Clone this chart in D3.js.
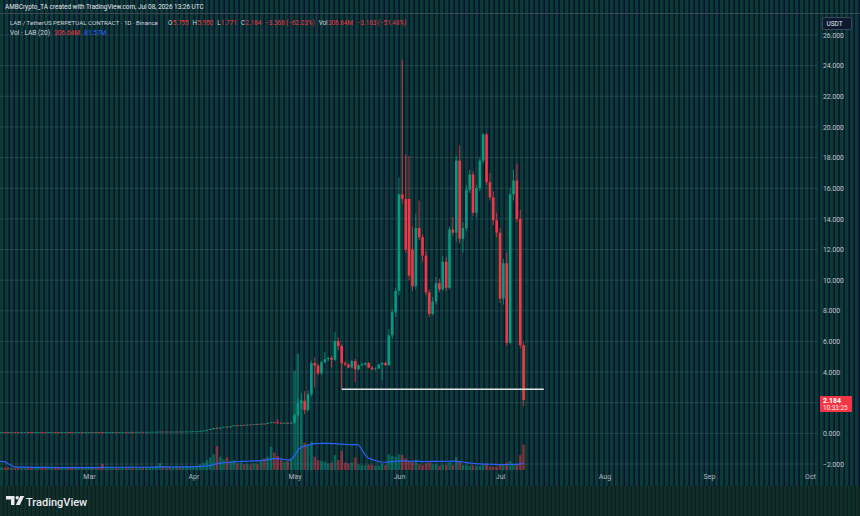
<!DOCTYPE html>
<html>
<head>
<meta charset="utf-8">
<script src="https://cdn.jsdelivr.net/npm/d3@7"></script>
<style>
  body { margin: 0; background: #0b2f2c; }
  svg { display: block; }
  text { font-family: Roboto, 'Liberation Sans', sans-serif; }
</style>
</head>
<body>
<svg id="chart" width="860" height="516"></svg>
<script>
// Daily candles [open, high, low, close, volume in M], one list per month
const firstDay = '2026-01-14'
const jan = [
  [0.110, 0.125, 0.100, 0.118, 60], [0.118, 0.130, 0.110, 0.114, 70], [0.114, 0.160, 0.105, 0.140, 520],
  [0.140, 0.150, 0.112, 0.120, 460], [0.120, 0.128, 0.098, 0.104, 380], [0.104, 0.110, 0.096, 0.100, 55],
  [0.100, 0.106, 0.094, 0.097, 48], [0.097, 0.102, 0.090, 0.094, 42], [0.094, 0.100, 0.090, 0.096, 40],
  [0.096, 0.099, 0.088, 0.090, 45], [0.090, 0.096, 0.086, 0.093, 38], [0.093, 0.097, 0.089, 0.091, 36],
  [0.091, 0.094, 0.085, 0.087, 40], [0.087, 0.092, 0.084, 0.090, 35], [0.090, 0.095, 0.086, 0.088, 34],
  [0.088, 0.091, 0.082, 0.084, 38], [0.084, 0.089, 0.081, 0.086, 33], [0.086, 0.090, 0.083, 0.085, 32],
]
const feb = [
  [0.085, 0.089, 0.080, 0.083, 36], [0.083, 0.087, 0.078, 0.080, 34], [0.080, 0.085, 0.077, 0.082, 31],
  [0.082, 0.084, 0.076, 0.079, 30], [0.079, 0.083, 0.074, 0.077, 33], [0.077, 0.083, 0.075, 0.080, 29],
  [0.080, 0.082, 0.075, 0.078, 27], [0.078, 0.080, 0.073, 0.076, 30], [0.076, 0.082, 0.074, 0.079, 28],
  [0.079, 0.084, 0.077, 0.081, 32], [0.081, 0.083, 0.076, 0.078, 29], [0.078, 0.079, 0.072, 0.075, 31],
  [0.075, 0.080, 0.073, 0.077, 27], [0.077, 0.082, 0.075, 0.079, 26], [0.079, 0.081, 0.074, 0.076, 28],
  [0.076, 0.078, 0.071, 0.074, 30], [0.074, 0.079, 0.072, 0.077, 27], [0.077, 0.083, 0.076, 0.080, 33],
  [0.080, 0.082, 0.075, 0.078, 29], [0.078, 0.080, 0.073, 0.076, 27], [0.076, 0.081, 0.074, 0.079, 26],
  [0.079, 0.085, 0.077, 0.082, 34], [0.082, 0.084, 0.078, 0.080, 30], [0.080, 0.082, 0.075, 0.078, 28],
  [0.078, 0.084, 0.077, 0.081, 31], [0.081, 0.086, 0.079, 0.083, 33], [0.083, 0.085, 0.078, 0.080, 29],
  [0.080, 0.085, 0.079, 0.082, 30],
]
const mar = [
  [0.082, 0.086, 0.079, 0.084, 31], [0.084, 0.087, 0.080, 0.082, 29], [0.082, 0.088, 0.081, 0.086, 34],
  [0.086, 0.090, 0.083, 0.084, 40], [0.084, 0.089, 0.078, 0.080, 75], [0.080, 0.085, 0.078, 0.083, 38],
  [0.083, 0.088, 0.082, 0.086, 33], [0.086, 0.090, 0.084, 0.088, 30], [0.088, 0.092, 0.085, 0.087, 28],
  [0.087, 0.091, 0.084, 0.089, 27], [0.089, 0.094, 0.087, 0.092, 31], [0.092, 0.095, 0.088, 0.090, 29],
  [0.090, 0.094, 0.087, 0.093, 30], [0.093, 0.097, 0.090, 0.091, 28], [0.091, 0.095, 0.088, 0.094, 27],
  [0.094, 0.099, 0.092, 0.097, 33], [0.097, 0.100, 0.093, 0.095, 30], [0.095, 0.099, 0.092, 0.098, 29],
  [0.098, 0.103, 0.096, 0.101, 35], [0.101, 0.106, 0.099, 0.104, 40], [0.104, 0.110, 0.102, 0.108, 48],
  [0.108, 0.118, 0.106, 0.115, 85], [0.115, 0.119, 0.108, 0.111, 50], [0.111, 0.116, 0.107, 0.113, 42],
  [0.113, 0.117, 0.109, 0.110, 38], [0.110, 0.115, 0.107, 0.114, 36], [0.114, 0.119, 0.111, 0.117, 40],
  [0.117, 0.121, 0.112, 0.115, 37], [0.115, 0.120, 0.113, 0.118, 35], [0.118, 0.124, 0.116, 0.122, 42],
  [0.122, 0.127, 0.118, 0.125, 44],
]
const apr = [
  [0.125, 0.135, 0.120, 0.132, 48], [0.132, 0.140, 0.127, 0.137, 52], [0.137, 0.160, 0.133, 0.155, 70],
  [0.155, 0.190, 0.150, 0.182, 90], [0.182, 0.230, 0.176, 0.224, 120], [0.224, 0.280, 0.215, 0.270, 150],
  [0.270, 0.360, 0.262, 0.345, 190], [0.345, 0.400, 0.300, 0.318, 290], [0.318, 0.390, 0.312, 0.380, 160],
  [0.380, 0.440, 0.370, 0.428, 130], [0.428, 0.450, 0.380, 0.395, 150], [0.395, 0.470, 0.390, 0.460, 110],
  [0.460, 0.530, 0.450, 0.515, 120], [0.515, 0.540, 0.490, 0.505, 80], [0.505, 0.560, 0.500, 0.548, 85],
  [0.548, 0.570, 0.520, 0.530, 70], [0.530, 0.580, 0.525, 0.572, 75], [0.572, 0.600, 0.555, 0.565, 65],
  [0.565, 0.610, 0.560, 0.598, 80], [0.598, 0.620, 0.575, 0.585, 70], [0.585, 0.640, 0.580, 0.628, 120],
  [0.628, 0.660, 0.605, 0.615, 140], [0.615, 0.690, 0.610, 0.675, 160], [0.675, 0.730, 0.668, 0.720, 280],
  [0.720, 0.760, 0.690, 0.705, 210], [0.705, 0.940, 0.660, 0.680, 170], [0.680, 0.720, 0.650, 0.668, 120],
  [0.668, 0.700, 0.640, 0.690, 100], [0.690, 0.710, 0.620, 0.640, 110], [0.640, 0.720, 0.630, 0.700, 140],
]
const may = [
  [0.70, 1.30, 0.62, 1.18, 1200], [1.18, 2.30, 1.05, 1.96, 1400], [1.96, 2.65, 1.60, 2.12, 850],
  [2.12, 2.75, 1.25, 1.52, 330], [1.52, 2.80, 1.42, 2.55, 300], [2.55, 4.75, 2.40, 4.58, 340],
  [4.58, 4.95, 3.00, 4.42, 160], [4.42, 4.55, 3.80, 3.92, 120], [3.92, 4.72, 3.82, 4.64, 110],
  [4.64, 5.30, 4.58, 4.84, 100], [4.84, 5.00, 4.70, 4.92, 80], [4.92, 5.05, 4.30, 4.80, 90],
  [4.80, 6.60, 4.70, 6.02, 180], [6.02, 6.25, 5.40, 5.70, 120], [5.70, 5.82, 2.88, 4.58, 230],
  [4.58, 4.70, 4.40, 4.49, 90], [4.49, 4.60, 4.25, 4.30, 80], [4.30, 4.80, 4.25, 4.72, 90],
  [4.72, 4.85, 3.35, 4.18, 150], [4.18, 4.50, 4.10, 4.44, 70], [4.44, 4.62, 4.36, 4.50, 60],
  [4.50, 4.64, 4.42, 4.59, 55], [4.59, 4.66, 4.25, 4.29, 65], [4.29, 4.40, 4.12, 4.18, 60],
  [4.18, 4.30, 4.10, 4.23, 50], [4.23, 4.55, 4.20, 4.49, 55], [4.49, 4.65, 3.47, 4.59, 80],
  [4.59, 4.70, 4.40, 4.45, 60], [4.45, 6.80, 4.40, 6.40, 190], [6.40, 8.10, 6.20, 7.90, 170],
  [7.90, 9.50, 7.60, 9.30, 160],
]
const jun = [
  [9.30, 16.70, 9.00, 15.60, 190], [15.60, 24.40, 15.00, 15.30, 180], [15.30, 18.20, 11.80, 12.00, 140],
  [15.30, 18.10, 10.00, 10.30, 110], [12.00, 13.50, 9.30, 9.60, 100], [9.60, 14.30, 9.40, 13.40, 120],
  [13.40, 15.20, 12.60, 12.80, 70], [12.80, 13.00, 11.20, 11.60, 60], [11.60, 11.90, 9.00, 9.20, 80],
  [9.20, 9.40, 7.60, 7.80, 90], [7.80, 8.90, 7.70, 8.60, 65], [8.60, 10.20, 8.40, 9.80, 70],
  [9.80, 10.10, 9.20, 9.40, 50], [9.40, 11.60, 9.30, 11.20, 65], [11.20, 11.50, 9.30, 9.50, 60],
  [9.50, 13.50, 9.40, 13.30, 95], [13.30, 14.10, 12.90, 13.10, 60], [13.10, 18.10, 12.50, 17.80, 150],
  [17.80, 18.80, 12.40, 12.70, 110], [12.70, 13.80, 11.80, 13.40, 60], [13.40, 16.20, 13.20, 15.90, 60],
  [15.90, 17.20, 15.70, 16.90, 50], [16.90, 17.10, 14.20, 14.40, 55], [14.40, 16.20, 14.10, 16.00, 45],
  [16.00, 18.00, 15.80, 17.80, 50], [17.80, 19.60, 17.60, 19.50, 60], [19.50, 19.60, 16.20, 16.40, 70],
  [16.40, 17.00, 15.20, 15.40, 45], [15.40, 15.80, 13.60, 13.90, 40], [13.90, 14.40, 12.80, 13.10, 35],
]
const jul = [
  [13.10, 13.40, 8.50, 8.80, 60], [8.80, 11.40, 8.40, 11.10, 70], [11.10, 11.80, 5.70, 5.90, 90],
  [5.90, 16.00, 5.80, 15.60, 110], [15.60, 17.20, 15.20, 16.50, 75], [16.50, 17.60, 13.80, 14.00, 60],
  [14.00, 14.60, 5.55, 5.755, 180], [5.755, 5.950, 1.771, 2.184, 306.64],
]

// Axis ticks
const priceTicks = [-2, 0, 2, 4, 6, 8, 10, 12, 14, 16, 18, 20, 22, 24, 26]
const monthTicks = ['2026-03-01', '2026-04-01', '2026-05-01', '2026-06-01', '2026-07-01', '2026-08-01', '2026-09-01', '2026-10-01']

// Drawn support line (from, to, price)
const supportLine = ['2026-05-15', '2026-07-14', 2.88]
const lastPrice = 2.184
const maLength = 20

const upColor = '#089981'
const downColor = '#f23645'
const textColor = '#d1d4dc'

const parse = d3.utcParse('%Y-%m-%d')
const t0 = parse(firstDay)
const data = [].concat(jan, feb, mar, apr, may, jun, jul).map((r, i) => ({
  date: d3.utcDay.offset(t0, i), o: r[0], h: r[1], l: r[2], c: r[3], v: r[4],
}))
data.forEach((d, i) => {
  d.ma = i >= maLength - 1 ? d3.mean(data.slice(i - maLength + 1, i + 1), (e) => e.v) : null
})

const svg = d3.select('#chart')
const plotRight = 817
const plotTop = 14
const plotBottom = 470

const x = d3.scaleUtc().domain([parse('2026-03-01'), parse('2026-10-01')]).range([89, 810])
const y = d3.scaleLinear().domain([-2, 26]).range([464, 35])
const yv = d3.scaleLinear().domain([0, 1400]).range([plotBottom, 354])
const bw = 2.6

// Фон с вертикальными полосами
const defs = svg.append('defs')
const stripes = defs.append('pattern').attr('id', 'stripes')
  .attr('width', 5).attr('height', 10).attr('patternUnits', 'userSpaceOnUse')
stripes.append('rect').attr('width', 5).attr('height', 10).attr('fill', '#0b3c33')
stripes.append('rect').attr('x', 3.4).attr('width', 1.6).attr('height', 10).attr('fill', '#0b1036')
const foot = defs.append('pattern').attr('id', 'foot')
  .attr('width', 4).attr('height', 10).attr('patternUnits', 'userSpaceOnUse')
foot.append('rect').attr('width', 4).attr('height', 10).attr('fill', '#12302b')
foot.append('rect').attr('x', 2.5).attr('width', 1.5).attr('height', 10).attr('fill', '#0d211e')
defs.append('clipPath').attr('id', 'plot')
  .append('rect').attr('x', 0).attr('y', plotTop).attr('width', plotRight).attr('height', plotBottom - plotTop)

svg.append('rect').attr('width', 860).attr('height', 486).attr('fill', 'url(#stripes)')
svg.append('rect').attr('y', 486).attr('width', 860).attr('height', 30).attr('fill', 'url(#foot)')

// Separators
svg.append('line').attr('x1', 0).attr('x2', 860).attr('y1', 13.5).attr('y2', 13.5)
  .attr('stroke', '#3b4a52').attr('stroke-width', 1)

const g = svg.append('g').attr('clip-path', 'url(#plot)')

// Горизонтальная сетка
g.selectAll('.grid')
  .data(priceTicks)
  .enter()
  .append('line')
  .attr('x1', 0).attr('x2', plotRight)
  .attr('y1', (d) => y(d)).attr('y2', (d) => y(d))
  .attr('stroke', 'rgba(170,180,185,0.16)')
  .attr('stroke-width', 1)

// Объём
g.selectAll('.vol')
  .data(data)
  .enter()
  .append('rect')
  .attr('x', (d) => x(d.date) - bw / 2)
  .attr('width', bw)
  .attr('y', (d) => yv(d.v))
  .attr('height', (d) => plotBottom - yv(d.v))
  .attr('fill', (d) => (d.c >= d.o ? upColor : downColor))
  .attr('opacity', 0.5)

g.append('path')
  .datum(data.filter((d) => d.ma !== null))
  .attr('fill', 'none')
  .attr('stroke', '#2962ff')
  .attr('stroke-width', 1.2)
  .attr('d', d3.line().x((d) => x(d.date)).y((d) => yv(d.ma)))

// Свечи
const candle = g.selectAll('.candle')
  .data(data)
  .enter()
  .append('g')
  .attr('fill', (d) => (d.c >= d.o ? upColor : downColor))
  .attr('stroke', (d) => (d.c >= d.o ? upColor : downColor))

candle.append('line')
  .attr('x1', (d) => x(d.date)).attr('x2', (d) => x(d.date))
  .attr('y1', (d) => y(d.h)).attr('y2', (d) => y(d.l))
  .attr('stroke-width', 0.8)

candle.append('rect')
  .attr('stroke', 'none')
  .attr('x', (d) => x(d.date) - bw / 2)
  .attr('width', bw)
  .attr('y', (d) => y(Math.max(d.o, d.c)))
  .attr('height', (d) => Math.max(0.8, Math.abs(y(d.o) - y(d.c))))

// Линия поддержки
g.append('line')
  .attr('x1', x(parse(supportLine[0]))).attr('x2', x(parse(supportLine[1])))
  .attr('y1', y(supportLine[2])).attr('y2', y(supportLine[2]))
  .attr('stroke', '#e4e4e4')
  .attr('stroke-width', 1.4)

// Ось времени
svg.append('g')
  .attr('transform', `translate(0,${plotBottom})`)
  .call(d3.axisBottom(x).tickValues(monthTicks.map(parse)).tickFormat(d3.utcFormat('%b')).tickSize(0).tickPadding(4.5))
  .call((a) => a.select('.domain').remove())
  .selectAll('text')
  .attr('fill', '#b2b5be')
  .attr('font-size', '7px')
  .attr('font-family', 'Roboto, sans-serif')

// Ось цены (метка, закрытая плашкой последней цены, не выводится)
const tagTop = y(lastPrice) - 4
const tagBottom = tagTop + 16
svg.append('g')
  .attr('transform', 'translate(823,0)')
  .call(d3.axisRight(y)
    .tickValues(priceTicks.filter((v) => y(v) + 4 < tagTop || y(v) - 4 > tagBottom))
    .tickFormat(d3.format('.3f')).tickSize(0).tickPadding(0))
  .call((a) => a.select('.domain').remove())
  .selectAll('text')
  .attr('fill', '#c3c6ce')
  .attr('font-size', '6.8px')
  .attr('font-family', 'Roboto, sans-serif')

// Метка последней цены
svg.append('rect').attr('x', 820).attr('y', tagTop).attr('width', 32).attr('height', 16)
  .attr('rx', 1).attr('fill', downColor)
svg.append('text').attr('x', 823).attr('y', tagTop + 7).text(d3.format('.3f')(lastPrice))
  .attr('fill', '#fff').attr('font-size', '7px').attr('font-weight', 'bold')
svg.append('text').attr('x', 823).attr('y', tagTop + 14.3).text('10:33:25')
  .attr('fill', '#ffe3e6').attr('font-size', '6.4px')

// USDT
svg.append('rect').attr('x', 822.5).attr('y', 17.5).attr('width', 29).attr('height', 12).attr('rx', 2)
  .attr('fill', '#0c1930').attr('stroke', '#4a5060').attr('stroke-width', 0.8)
svg.append('text').attr('x', 826.5).attr('y', 26).text('USDT')
  .attr('fill', '#e6e8ee').attr('font-size', '6.5px')

// Заголовок
svg.append('text').attr('x', 5).attr('y', 8.8)
  .text('AMBCrypto_TA created with TradingView.com, Jul 08, 2026 13:26 UTC')
  .attr('fill', '#e6e8ee').attr('font-size', '6.4px')

// Строка легенды: текст подгоняется по ширине и выкладывается подряд
const flow = (items, x0, yy, size, gap) => {
  let cx = x0
  items.forEach(([txt, color, pad]) => {
    const t = svg.append('text').attr('x', cx).attr('y', yy).text(txt)
      .attr('fill', color).attr('font-size', `${size}px`)
    cx += t.node().getComputedTextLength() + (pad ? gap : 0.4)
  })
}

const title = svg.append('text').attr('x', 10).attr('y', 25)
  .text('LAB / TetherUS PERPETUAL CONTRACT · 1D · Binance')
  .attr('fill', textColor).attr('font-size', '7px')
const tw = title.node().getComputedTextLength()
title.attr('font-size', `${(7 * 148) / tw}px`)

flow([
  ['O', textColor], ['5.755', downColor, 1],
  ['H', textColor], ['5.950', downColor, 1],
  ['L', textColor], ['1.771', downColor, 1],
  ['C', textColor], ['2.184', downColor, 1],
  ['−3.368 (−62.03%)', downColor, 1],
  ['Vol', textColor], ['306.64M', downColor, 1],
  ['−3.163 (−51.48%)', downColor, 1],
], 168, 25, 6.3, 4)

flow([
  ['Vol · LAB (20)', textColor, 1],
  ['306.64M', downColor, 1],
  ['81.57M', '#2962ff', 1],
], 10, 35, 6.6, 4)

// Логотип TradingView
const logo = svg.append('g').attr('transform', 'translate(6,496)').attr('fill', '#e8eaef')
logo.append('path').attr('d', 'M0,0 H8.5 V9 H5 V3.4 H0 Z')
logo.append('circle').attr('cx', 11.2).attr('cy', 1.7).attr('r', 1.7)
logo.append('path').attr('d', 'M14.2,0 H18.2 L13.8,9 H9.8 Z')
svg.append('text').attr('x', 26).attr('y', 505.5).text('TradingView')
  .attr('fill', '#e8eaef').attr('font-size', '11px').attr('font-weight', 500)
</script>
</body>
</html>
